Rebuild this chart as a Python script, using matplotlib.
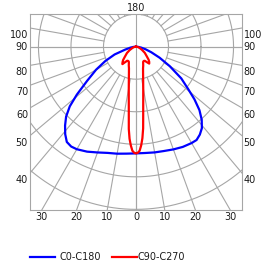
import numpy as np
import matplotlib
matplotlib.use('Agg')
import matplotlib.pyplot as plt
from matplotlib.lines import Line2D

# luminous intensity (cd/klm), gamma measured from nadir
gamma_blue = [0, 5, 10, 15, 20, 25, 30, 33, 36, 39, 42, 45, 48, 51, 55, 60, 65, 70, 75, 80, 85, 90]
c180 = [164, 165, 167, 169, 173, 178, 182, 183, 181, 173, 163, 152, 137, 117, 92, 71, 52, 35, 17, 9, 4, 0]
c0 = [164, 164, 165, 166, 168, 170, 171, 171, 167, 161, 151, 138, 121, 103, 85, 60, 40, 25, 15, 8, 3, 0]

gamma_red = [0, 1, 2, 3, 4, 5, 6, 7, 8, 9, 10, 12, 15, 18, 21, 24, 26, 29, 32, 35, 38,
             41, 44, 48, 55, 62, 70, 80, 90]
c270 = [164, 163, 160, 152, 142, 127, 106, 91, 80, 71, 64, 53, 42, 35, 31, 27, 25.4, 25, 25.4,
        29, 34, 31.5, 28.5, 23, 17, 11, 6, 3, 0]
c90 = [164, 163, 160, 152, 141, 126, 106, 91, 80, 71, 64, 53, 42, 35, 31, 27, 25.4, 25, 25.6,
       29, 33, 31, 28, 22.5, 16.5, 10.5, 6, 3, 0]

side_labels = [100, 90, 80, 70, 60, 50, 40]
bottom_labels = [30, 20, 10, 0, 10, 20, 30]
bottom_angles = [-30, -20, -10, 0, 10, 20, 30]
rings = [50, 100, 150, 200, 250, 300]

gc = '#a6a6a6'
tc = '#1a1a1a'
fs = 6.9

fig = plt.figure(figsize=(2.75, 2.66), dpi=100)
ax = fig.add_axes([30/275, 56/266, 212/275, 196.5/266])
xmax, ymin, ymax = 163, -251, 51
ax.set_xlim(-xmax, xmax)
ax.set_ylim(ymin, ymax)
ax.set_xticks([])
ax.set_yticks([])
for s in ax.spines.values():
    s.set_color(gc)
    s.set_linewidth(0.8)

# grid
t = np.linspace(0, 2*np.pi, 361)
for r in rings:
    ax.plot(r*np.cos(t), r*np.sin(t), color=gc, lw=0.8, zorder=1)
for g in range(0, 360, 10):
    a = np.radians(g)
    ax.plot([50*np.sin(a), 450*np.sin(a)], [-50*np.cos(a), -450*np.cos(a)],
            color=gc, lw=0.8, zorder=1)
ax.axhline(0, color=gc, lw=0.8, zorder=1)
ax.axvline(0, color=gc, lw=0.8, zorder=1)


def curve(gam, left, right):
    g = np.radians(np.array(gam, dtype=float))
    l = np.array(left, dtype=float)
    r = np.array(right, dtype=float)
    x = np.concatenate([-(l*np.sin(g))[::-1], r*np.sin(g)])
    y = np.concatenate([-(l*np.cos(g))[::-1], -r*np.cos(g)])
    return x, y


bx, by = curve(gamma_blue, c180, c0)
rx, ry = curve(gamma_red, c270, c90)
ax.plot(bx, by, color='#0000ff', lw=1.6, zorder=3, solid_joinstyle='round')
ax.plot(rx, ry, color='#ff0000', lw=1.6, zorder=4, solid_joinstyle='round')

# angle labels
for lab in side_labels:
    a = np.radians(lab)
    y = -xmax*np.cos(a)/np.sin(a)
    if lab != 90:
        y -= 10.8
    ax.text(-xmax-3, y, str(lab), ha='right', va='center', fontsize=fs, color=tc, clip_on=False)
    ax.text(xmax+2.5, y, str(lab), ha='left', va='center', fontsize=fs, color=tc, clip_on=False)
for lab, ang in zip(bottom_labels, bottom_angles):
    x = -ymin*np.tan(np.radians(ang))
    ax.text(x, ymin-11, str(lab), ha='center', va='center', fontsize=fs, color=tc, clip_on=False)
ax.text(0, ymax+8.5, '180', ha='center', va='center', fontsize=fs, color=tc, clip_on=False)

# legend
ly = (266-256.5)/266
fig.add_artist(Line2D([30/275, 55/275], [ly, ly], color='#0000ff', lw=1.6))
fig.text(60/275, ly, 'C0-C180', ha='left', va='center', fontsize=fs, color=tc)
fig.add_artist(Line2D([112/275, 137/275], [ly, ly], color='#ff0000', lw=1.6))
fig.text(137/275, ly, 'C90-C270', ha='left', va='center', fontsize=fs, color=tc)

fig.savefig('out.png', dpi=100)
